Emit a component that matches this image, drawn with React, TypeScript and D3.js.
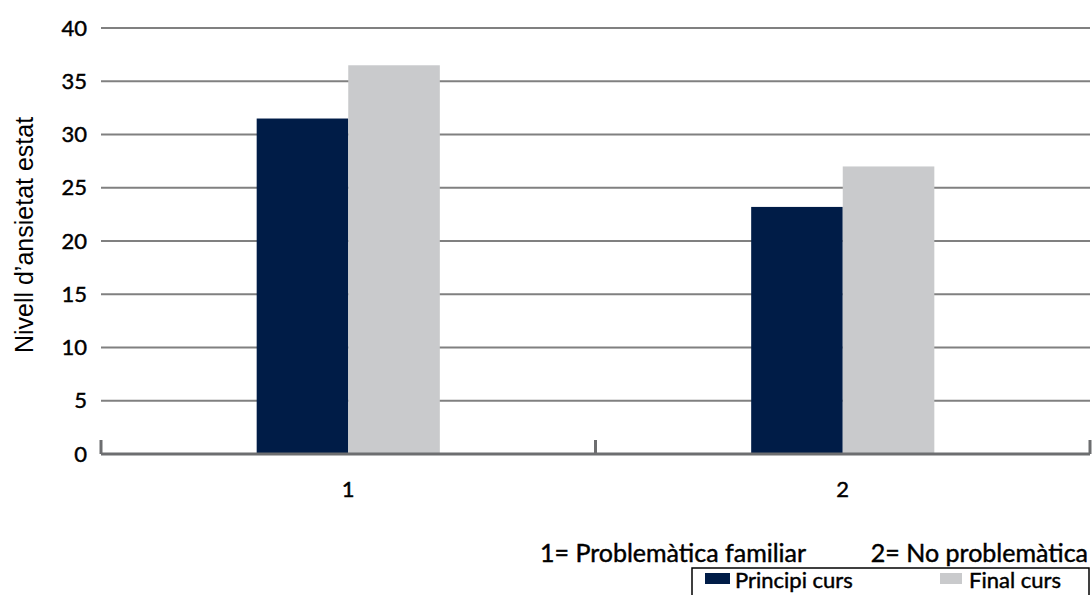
import React from "react";
import * as d3 from "d3";

const categories = ["1", "2"];
const seriesNames = ["Principi curs", "Final curs"];
const principi = [31.5, 23.2];
const finalCurs = [36.5, 27];
const yTicks = [0, 5, 10, 15, 20, 25, 30, 35, 40];
const colors = ["#001c47", "#c9cacc"];
const captions = ["1= Problemàtica familiar", "2= No problemàtica"];

const W = 1092, H = 595;
const m = { left: 101, right: 1090, top: 28, bottom: 454 };
const font = "Lato, 'Open Sans', sans-serif";
const txt = { fontFamily: font, fontWeight: 400, stroke: "#000", strokeWidth: 0.45, fill: "#000" } as const;

export default function App() {
  const x = d3.scaleBand<string>().domain(categories).range([m.left, m.right]);
  const y = d3.scaleLinear().domain([0, 40]).range([m.bottom, m.top]);
  const inner = d3.scaleBand<string>().domain(seriesNames).range([0, x.bandwidth()]).paddingInner(0).paddingOuter(1.7);
  const series = [principi, finalCurs];
  return (
    <svg width={W} height={H} style={{ position: "absolute", left: 0, top: 0, background: "#fff" }}>
      {yTicks.filter(t => t > 0).map(t => (
        <line key={t} x1={m.left} x2={m.right} y1={y(t)} y2={y(t)} stroke="#808080" strokeWidth={2} />
      ))}
      {yTicks.map(t => (
        <text key={t} x={87} y={y(t)} dy="0.35em" textAnchor="end" fontSize={22} {...txt}>{t}</text>
      ))}
      {categories.map((c, i) =>
        series.map((s, j) => (
          <rect key={c + j} x={(x(c) as number) + (inner(seriesNames[j]) as number)} width={inner.bandwidth()}
            y={y(s[i])} height={y(0) - y(s[i])} fill={colors[j]} />
        ))
      )}
      <line x1={m.left} x2={m.right} y1={y(0)} y2={y(0)} stroke="#6d6e70" strokeWidth={3} />
      {[...categories.map(c => x(c) as number), m.right].map((tx, i) => (
        <line key={i} x1={tx} x2={tx} y1={y(0) - 14} y2={y(0)} stroke="#6d6e70" strokeWidth={3} />
      ))}
      {categories.map(c => (
        <text key={c} x={(x(c) as number) + x.bandwidth() / 2} y={497} textAnchor="middle" fontSize={22} {...txt}>{c}</text>
      ))}
      <text transform="translate(33,235) rotate(-90)" textAnchor="middle" fontFamily="'Liberation Sans', Arial, sans-serif" fontSize={25}>Nivell d’ansietat estat</text>
      <text x={540} y={562} fontSize={25} {...txt}>{captions[0]}</text>
      <text x={1088} y={562} fontSize={25} textAnchor="end" {...txt}>{captions[1]}</text>
      <rect x={692} y={568} width={397} height={30} fill="#fff" stroke="#000" strokeWidth={1.5} />
      <rect x={705} y={573} width={25} height={11} fill={colors[0]} />
      <text x={735} y={588} fontSize={22} {...txt}>{seriesNames[0]}</text>
      <rect x={940} y={573} width={22} height={11} fill={colors[1]} />
      <text x={969} y={588} fontSize={22} {...txt}>{seriesNames[1]}</text>
    </svg>
  );
}
